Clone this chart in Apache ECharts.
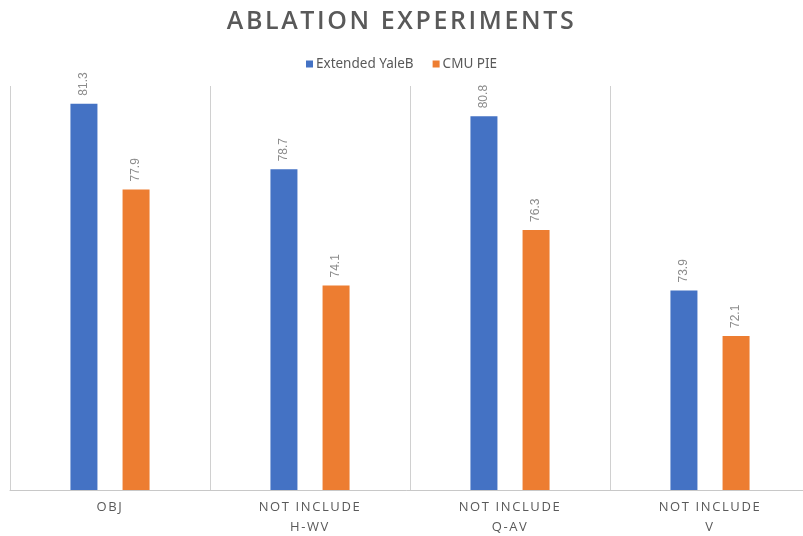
<!DOCTYPE html>
<html>
<head>
<meta charset="utf-8">
<script src="https://cdn.jsdelivr.net/npm/echarts@6/dist/echarts.min.js"></script>
<style>
  html, body { margin: 0; padding: 0; background: #ffffff; }
  #chart { width: 803px; height: 536px; }
</style>
</head>
<body>
<div id="chart"></div>
<script>
// Ablation results per configuration
const categories = ['OBJ', 'NOT INCLUDE\nH-WV', 'NOT INCLUDE\nQ-AV', 'NOT INCLUDE\nV'];
const seriesNames = ['Extended YaleB', 'CMU PIE'];
const yaleB = [81.3, 78.7, 80.8, 73.9];
const cmuPie = [77.9, 74.1, 76.3, 72.1];
const colors = ['#4472C4', '#ED7D31'];

// Tracked-out caps for the title and category labels (Open Sans text only)
const baseFillText = CanvasRenderingContext2D.prototype.fillText;
CanvasRenderingContext2D.prototype.fillText = function (text, x, y, maxWidth) {
  if ('letterSpacing' in this) {
    if (this.font.indexOf('Open Sans') >= 0) {
      const size = parseFloat((this.font.match(/(\d+(\.\d+)?)px/) || [0, 12])[1]);
      this.letterSpacing = size >= 20 ? '2.6px' : '1.6px';
    } else {
      this.letterSpacing = '0px';
    }
  }
  return maxWidth === undefined
    ? baseFillText.call(this, text, x, y)
    : baseFillText.call(this, text, x, y, maxWidth);
};

const chart = echarts.init(document.getElementById('chart'));

const valueLabel = {
  show: true,
  position: 'top',
  rotate: 90,
  align: 'left',
  verticalAlign: 'middle',
  distance: 8,
  color: '#8c8c8c',
  fontSize: 12,
  fontFamily: 'Liberation Sans',
  formatter: p => p.value.toFixed(1)
};

chart.setOption({
  backgroundColor: '#ffffff',
  animation: false,
  title: {
    text: 'ABLATION EXPERIMENTS',
    left: 'center',
    top: 4,
    textStyle: {
      color: '#595959',
      fontSize: 25,
      fontWeight: 600,
      fontFamily: 'Open Sans'
    }
  },
  legend: {
    top: 52,
    left: 'center',
    itemWidth: 7,
    itemHeight: 7,
    itemGap: 19,
    icon: 'rect',
    textStyle: { color: '#595959', fontSize: 13.5, fontFamily: 'Noto Sans', padding: [0, 0, 0, -2] },
    data: seriesNames
  },
  // the last category column runs past the right edge of the canvas
  grid: { left: 10, width: 800, top: 86, bottom: 46, containLabel: false, outerBoundsMode: 'none' },
  xAxis: {
    type: 'category',
    data: categories,
    axisLine: { lineStyle: { color: '#c8c8c8', width: 1 } },
    axisTick: { show: false },
    splitLine: { show: true, lineStyle: { color: '#d0d0d0', width: 1 } },
    axisLabel: {
      color: '#595959',
      fontSize: 13,
      fontFamily: 'Open Sans',
      margin: 7,
      lineHeight: 20
    }
  },
  yAxis: {
    type: 'value',
    min: 66,
    max: 82,
    show: false,
    splitLine: { show: false }
  },
  series: [
    {
      name: seriesNames[0],
      type: 'bar',
      data: yaleB,
      barWidth: 27,
      barGap: '93%',
      itemStyle: { color: colors[0] },
      label: valueLabel
    },
    {
      name: seriesNames[1],
      type: 'bar',
      data: cmuPie,
      barWidth: 27,
      itemStyle: { color: colors[1] },
      label: valueLabel
    }
  ]
});
</script>
</body>
</html>
